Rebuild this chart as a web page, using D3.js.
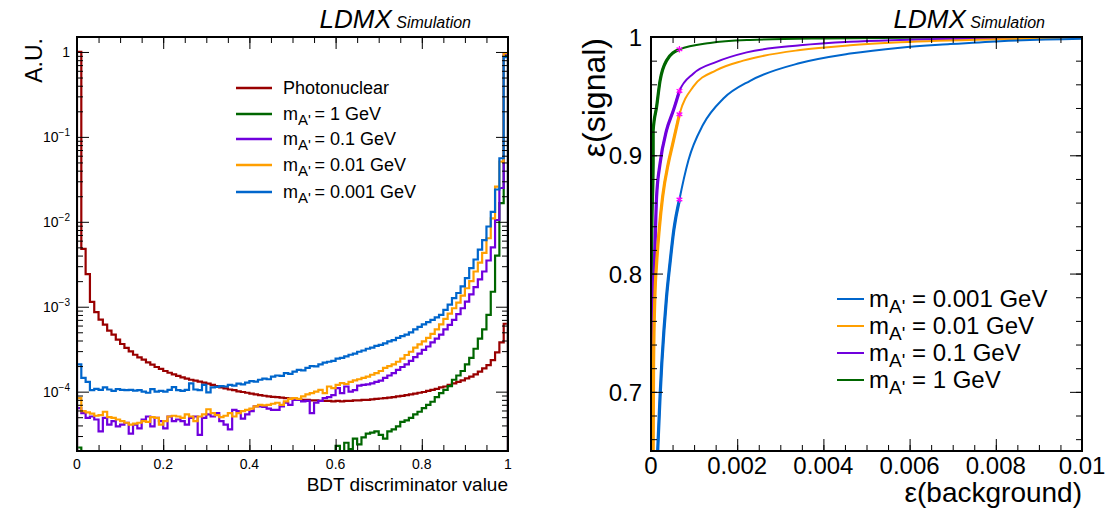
<!DOCTYPE html>
<html><head><meta charset="utf-8">
<script src="https://cdn.jsdelivr.net/npm/d3@7"></script>
<style>
body{margin:0;background:#fff;}
text{font-family:"Liberation Sans",Arial,Helvetica,sans-serif;fill:#000;}
</style>
</head><body>
<svg id="c" width="1107" height="508"></svg>
<script>
// ---------------- DATA ----------------
const binCount = 100; // BDT discriminator bins over [0,1]
const photonuclear = [
 1.0,4.81e-3,2.42e-3,1.14e-3,8.65e-4,7.03e-4,6.14e-4,5.22e-4,4.69e-4,4.09e-4,
 3.64e-4,3.27e-4,2.98e-4,2.72e-4,2.53e-4,2.38e-4,2.21e-4,2.08e-4,1.95e-4,1.85e-4,
 1.75e-4,1.67e-4,1.60e-4,1.53e-4,1.47e-4,1.42e-4,1.38e-4,1.35e-4,1.31e-4,1.28e-4,
 1.24e-4,1.20e-4,1.16e-4,1.12e-4,1.09e-4,1.06e-4,1.04e-4,1.01e-4,9.9e-5,9.7e-5,
 9.5e-5,9.3e-5,9.1e-5,8.95e-5,8.8e-5,8.7e-5,8.6e-5,8.5e-5,8.4e-5,8.3e-5,
 8.2e-5,8.1e-5,8.0e-5,8.0e-5,7.9e-5,7.9e-5,7.8e-5,7.8e-5,7.8e-5,7.7e-5,
 7.8e-5,7.7e-5,7.8e-5,7.8e-5,7.9e-5,7.9e-5,8.0e-5,8.0e-5,8.1e-5,8.2e-5,
 8.3e-5,8.4e-5,8.5e-5,8.6e-5,8.8e-5,8.9e-5,9.1e-5,9.3e-5,9.5e-5,9.7e-5,
 9.9e-5,1.02e-4,1.05e-4,1.08e-4,1.12e-4,1.15e-4,1.2e-4,1.25e-4,1.3e-4,1.36e-4,
 1.43e-4,1.5e-4,1.6e-4,1.72e-4,1.88e-4,2.05e-4,2.35e-4,2.9e-4,3.8e-4,6.3e-4
];
const mA1GeV = [
 2.2e-5,0,0,0,0,0,0,0,0,0,
 0,0,0,0,0,0,0,0,0,0,
 0,0,0,0,0,0,0,0,0,0,
 0,0,0,0,0,0,0,0,0,0,
 0,0,0,0,0,0,0,0,0,0,
 0,0,0,0,0,0,0,0,0,0,
 2.3e-5,0,2.5e-5,2.1e-5,2.8e-5,2.4e-5,2.9e-5,3.2e-5,3.3e-5,3.4e-5,
 3.1e-5,2.8e-5,3.4e-5,3.6e-5,3.9e-5,4.4e-5,4.6e-5,4.9e-5,5.4e-5,5.8e-5,
 6.4e-5,7.0e-5,7.6e-5,8.6e-5,9.6e-5,1.05e-4,1.16e-4,1.38e-4,1.55e-4,1.75e-4,
 2.1e-4,2.5e-4,3.2e-4,4.2e-4,5.4e-4,8.0e-4,1.5e-3,4.0e-3,1.66e-2,0.9
];
const mA01GeV = [
 6.4e-5,5.6e-5,4.9e-5,5.1e-5,4.7e-5,3.4e-5,4.9e-5,4.1e-5,4.5e-5,3.9e-5,
 4.1e-5,4.3e-5,3.2e-5,4.1e-5,3.7e-5,4.7e-5,5.1e-5,3.9e-5,4.9e-5,4.5e-5,
 3.7e-5,5.1e-5,4.5e-5,4.7e-5,4.5e-5,4.1e-5,4.9e-5,5.1e-5,3.1e-5,4.9e-5,
 5.4e-5,5.1e-5,5.6e-5,4.5e-5,4.1e-5,3.6e-5,6.1e-5,5.9e-5,4.8e-5,5.4e-5,
 5.9e-5,6.7e-5,6.7e-5,6.6e-5,6.3e-5,6.1e-5,6.1e-5,6.7e-5,7.4e-5,7.0e-5,
 8.0e-5,8.0e-5,7.7e-5,7.8e-5,5.6e-5,7.4e-5,7.8e-5,8.4e-5,8.6e-5,9.1e-5,
 1.1e-4,9.6e-5,1.15e-4,1.0e-4,1.04e-4,1.18e-4,1.2e-4,1.22e-4,1.25e-4,1.3e-4,
 1.35e-4,1.45e-4,1.55e-4,1.65e-4,1.8e-4,1.95e-4,2.1e-4,2.3e-4,2.55e-4,2.8e-4,
 3.1e-4,3.4e-4,3.8e-4,4.2e-4,4.7e-4,5.4e-4,6.1e-4,7.0e-4,8.2e-4,9.6e-4,
 1.15e-3,1.4e-3,1.7e-3,2.1e-3,2.6e-3,3.5e-3,5.0e-3,1.05e-2,2.5e-2,0.95
];
const mA001GeV = [
 8.4e-5,5.9e-5,5.7e-5,5.5e-5,5.2e-5,5.3e-5,5.8e-5,5.0e-5,4.9e-5,4.7e-5,
 4.5e-5,4.3e-5,4.1e-5,4.2e-5,4.3e-5,4.5e-5,4.4e-5,5.0e-5,4.9e-5,4.1e-5,
 4.5e-5,5.1e-5,5.2e-5,5.1e-5,4.9e-5,5.4e-5,5.1e-5,4.5e-5,5.1e-5,5.4e-5,
 6.2e-5,5.6e-5,5.3e-5,5.0e-5,5.2e-5,5.6e-5,5.1e-5,5.6e-5,5.9e-5,6.1e-5,
 6.3e-5,6.7e-5,7.0e-5,6.9e-5,7.0e-5,7.2e-5,7.4e-5,7.0e-5,7.7e-5,8.2e-5,
 8.4e-5,8.2e-5,8.8e-5,9.3e-5,9.6e-5,1.0e-4,1.05e-4,9.6e-5,1.15e-4,1.1e-4,
 1.2e-4,1.26e-4,1.23e-4,1.3e-4,1.36e-4,1.4e-4,1.45e-4,1.5e-4,1.58e-4,1.65e-4,
 1.75e-4,1.9e-4,2.0e-4,2.1e-4,2.25e-4,2.45e-4,2.7e-4,2.95e-4,3.3e-4,3.6e-4,
 3.9e-4,4.3e-4,4.8e-4,5.4e-4,6.2e-4,7.2e-4,8.3e-4,9.6e-4,1.12e-3,1.35e-3,
 1.65e-3,2.0e-3,2.6e-3,3.3e-3,4.3e-3,6.4e-3,1.1e-2,2.6e-2,5.1e-2,0.97
];
const mA0001GeV = [
 2.1e-4,1.45e-4,1.3e-4,1.04e-4,1.08e-4,1.05e-4,1.12e-4,1.06e-4,1.02e-4,1.07e-4,
 1.05e-4,1.04e-4,1.05e-4,1.03e-4,1.04e-4,1.0e-4,9.7e-5,1.07e-4,1.0e-4,1.02e-4,
 1.0e-4,1.05e-4,1.13e-4,1.04e-4,1.02e-4,1.05e-4,1.25e-4,1.06e-4,1.04e-4,1.2e-4,
 9.8e-5,1.12e-4,1.14e-4,1.16e-4,1.15e-4,1.2e-4,1.18e-4,1.24e-4,1.22e-4,1.28e-4,
 1.33e-4,1.31e-4,1.38e-4,1.42e-4,1.4e-4,1.5e-4,1.55e-4,1.53e-4,1.65e-4,1.62e-4,
 1.72e-4,1.8e-4,1.78e-4,1.9e-4,2.0e-4,1.98e-4,2.1e-4,2.2e-4,2.25e-4,2.3e-4,
 2.45e-4,2.5e-4,2.6e-4,2.72e-4,2.8e-4,2.95e-4,3.05e-4,3.2e-4,3.3e-4,3.45e-4,
 3.55e-4,3.7e-4,3.9e-4,4.05e-4,4.3e-4,4.5e-4,4.7e-4,5.0e-4,5.4e-4,5.8e-4,
 6.2e-4,6.6e-4,7.0e-4,7.5e-4,8.0e-4,9.2e-4,1.06e-3,1.26e-3,1.45e-3,1.74e-3,
 2.17e-3,2.85e-3,3.6e-3,4.7e-3,6.1e-3,8.8e-3,1.31e-2,2.4e-2,5.6e-2,0.87
];
const histNames = ["Photonuclear","1","0.1","0.01","0.001"];
const histColors = ["#990000","#006600","#7000dd","#ff9f00","#0066cc"];
const leftXTicks = [0,0.2,0.4,0.6,0.8,1];
const leftYTicks = [1,1e-1,1e-2,1e-3,1e-4];
const leftYTickExp = ["", "\u22121","\u22122","\u22123","\u22124"];

// ROC curves: eps(background), eps(signal)
const rocB0001 = [0.000155,0.00021,0.00025,0.0003,0.00036,0.00044,0.00053,0.00066,0.00087,0.00121,0.00168,0.0023,0.00346,0.00462,0.00578,0.00694,0.0081,0.01];
const rocS0001 = [0.65,0.696,0.724,0.752,0.78,0.8085,0.837,0.8626,0.896,0.926,0.948,0.963,0.978,0.986,0.991,0.994,0.9965,0.9985];
const rocB001 = [0.00005,0.00006,0.00009,0.00013,0.00019,0.00027,0.0004,0.0005,0.00066,0.00098,0.00152,0.00214,0.00346,0.00462,0.00578,0.0081,0.01];
const rocS001 = [0.65,0.724,0.78,0.8085,0.837,0.865,0.893,0.909,0.9347,0.958,0.972,0.980,0.989,0.993,0.9955,0.998,0.999];
const rocB01 = [0.00002,0.00003,0.00005,0.00008,0.00013,0.00021,0.00036,0.00052,0.00066,0.00098,0.00152,0.00222,0.00346,0.00462,0.00578,0.0081,0.01];
const rocS01 = [0.65,0.724,0.78,0.8085,0.865,0.893,0.921,0.938,0.9544,0.969,0.979,0.987,0.993,0.996,0.9975,0.999,0.9995];
const rocB1 = [0.00001,0.00002,0.00005,0.00005,0.00013,0.00021,0.00036,0.00066,0.00137,0.0023,0.004,0.006,0.008,0.01];
const rocS1 = [0.65,0.837,0.893,0.921,0.941,0.963,0.980,0.9896,0.9950,0.9975,0.9988,0.9993,0.9996,0.9998];
const workB = [0.00066,0.00066,0.00066,0.00066];
const workS = [0.8626,0.9347,0.9544,0.9896];
const rocNames = ["0.001","0.01","0.1","1"];
const rocColors = ["#0066cc","#ff9f00","#7000dd","#006600"];
const rightXTicks = [0,0.002,0.004,0.006,0.008,0.01];
const rightXLabels = ["0","0.002","0.004","0.006","0.008","0.01"];
const rightYTicks = [0.7,0.8,0.9,1];
const rightYLabels = ["0.7","0.8","0.9","1"];

// ---------------- DRAW ----------------
const svg = d3.select("#c");

// ===== Left panel =====
const yMinL = 2e-5;
const xL = d3.scaleLinear().domain([0,1]).range([77,508]);
const yL = d3.scaleLog().domain([yMinL,1.5]).range([451,37]);
const L = svg.append("g");

L.append("clipPath").attr("id","clipL").append("rect")
  .attr("x",xL(0)).attr("y",yL(1.5)).attr("width",xL(1)-xL(0)).attr("height",yL(yMinL)-yL(1.5));

const binEdges = d3.range(binCount+1).map(i=>i/binCount);
function histPts(vals){
  const pts=[[binEdges[0], yMinL]];
  vals.forEach((v,i)=>{const vv=Math.max(v,yMinL); pts.push([binEdges[i],vv]); pts.push([binEdges[i+1],vv]);});
  pts.push([binEdges[binCount], yMinL]);
  return pts;
}
const histLine = d3.line().x(d=>xL(d[0])).y(d=>yL(d[1]));
const hists = [photonuclear,mA1GeV,mA01GeV,mA001GeV,mA0001GeV];
const hg = L.append("g").attr("clip-path","url(#clipL)");
hists.forEach((h,k)=>{
  hg.append("path").attr("d",histLine(histPts(h))).attr("fill","none")
    .attr("stroke",histColors[k]).attr("stroke-width",2.2).attr("stroke-linejoin","miter");
});

function addAxis(g, axis){ const a=g.call(axis); a.select(".domain").remove(); a.selectAll("line").attr("stroke","#000").attr("stroke-width",1); a.selectAll("text").remove(); return a;}
const xMinorL = d3.range(0,1.0001,0.05);
addAxis(L.append("g").attr("transform",`translate(0,${yL(yMinL)})`), d3.axisBottom(xL).tickValues(leftXTicks).tickSize(-12));
addAxis(L.append("g").attr("transform",`translate(0,${yL(yMinL)})`), d3.axisBottom(xL).tickValues(xMinorL).tickSize(-6));
addAxis(L.append("g").attr("transform",`translate(0,${yL(1.5)})`), d3.axisTop(xL).tickValues(leftXTicks).tickSize(-12));
addAxis(L.append("g").attr("transform",`translate(0,${yL(1.5)})`), d3.axisTop(xL).tickValues(xMinorL).tickSize(-6));
const yMinorL = [];
[1e-5,1e-4,1e-3,1e-2,1e-1,1].forEach(d=>{for(let m=2;m<=9;m++){const v=d*m; if(v>=yMinL && v<=1.5) yMinorL.push(v);} });
addAxis(L.append("g").attr("transform",`translate(${xL(0)},0)`), d3.axisLeft(yL).tickValues(leftYTicks).tickSize(-12));
addAxis(L.append("g").attr("transform",`translate(${xL(0)},0)`), d3.axisLeft(yL).tickValues(yMinorL).tickSize(-6));
addAxis(L.append("g").attr("transform",`translate(${xL(1)},0)`), d3.axisRight(yL).tickValues(leftYTicks).tickSize(-12));
addAxis(L.append("g").attr("transform",`translate(${xL(1)},0)`), d3.axisRight(yL).tickValues(yMinorL).tickSize(-6));
L.append("rect").attr("x",xL(0)).attr("y",yL(1.5)).attr("width",xL(1)-xL(0)).attr("height",yL(yMinL)-yL(1.5))
  .attr("fill","none").attr("stroke","#000").attr("stroke-width",2);

leftXTicks.forEach(t=>{
  L.append("text").attr("x",xL(t)).attr("y",yL(yMinL)+18).attr("text-anchor","middle").attr("font-size",14).text(d3.format("")(t));
});
leftYTicks.forEach((t,i)=>{
  const tx = L.append("text").attr("x",70).attr("y",yL(t)+5).attr("text-anchor","end").attr("font-size",14);
  if(i===0){tx.text("1");}
  else { tx.append("tspan").text("10"); tx.append("tspan").attr("dy",-6).attr("font-size",10).text(leftYTickExp[i]); }
});
L.append("text").attr("x",508).attr("y",491).attr("text-anchor","end").attr("font-size",19).text("BDT discriminator value");
L.append("text").attr("transform","translate(42,38) rotate(-90)").attr("text-anchor","end").attr("font-size",23).text("A.U.");
const tl = L.append("text").attr("x",471).attr("y",28).attr("text-anchor","end").attr("font-style","italic");
tl.append("tspan").attr("font-size",26).text("LDMX");
tl.append("tspan").attr("font-size",16).text(" Simulation");

const legY = [88,114,139,165,192];
histNames.forEach((n,k)=>{
  L.append("line").attr("x1",236).attr("x2",272).attr("y1",legY[k]).attr("y2",legY[k]).attr("stroke",histColors[k]).attr("stroke-width",2.5);
  const t = L.append("text").attr("x",283).attr("y",legY[k]+6).attr("font-size",18);
  if(k===0) t.text(n);
  else { t.append("tspan").text("m"); t.append("tspan").attr("font-size",15).attr("dy",5).text("A'"); t.append("tspan").attr("dy",-5).text("\u2009= "+n+" GeV"); }
});

// ===== Right panel =====
const xR = d3.scaleLinear().domain([0,0.01]).range([651,1082]);
const yR = d3.scaleLinear().domain([0.65,1]).range([451,37]);
const R = svg.append("g");
R.append("clipPath").attr("id","clipR").append("rect")
  .attr("x",xR(0)).attr("y",yR(1)).attr("width",xR(0.01)-xR(0)).attr("height",yR(0.65)-yR(1));
const rocs = [[rocB0001,rocS0001],[rocB001,rocS001],[rocB01,rocS01],[rocB1,rocS1]];
const rocLine = d3.line().curve(d3.curveMonotoneX).x(d=>xR(d[0])).y(d=>yR(d[1]));
const rg = R.append("g").attr("clip-path","url(#clipR)");
[3,2,1,0].forEach(k=>{
  const pts = rocs[k][0].map((b,i)=>[b,rocs[k][1][i]]);
  rg.append("path").attr("d",rocLine(pts)).attr("fill","none").attr("stroke",rocColors[k]).attr("stroke-width",2);
  const pre = pts.filter(p=>p[0]<=workB[k]+1e-9);
  rg.append("path").attr("d",rocLine(pre)).attr("fill","none").attr("stroke",rocColors[k]).attr("stroke-width",3.2);
});
workB.forEach((b,k)=>{
  rg.append("path").attr("d",d3.symbol(d3.symbolAsterisk,30)()).attr("transform",`translate(${xR(b)},${yR(workS[k])})`)
    .attr("stroke","#ff00ff").attr("stroke-width",1.3).attr("fill","none");
});
const xMinorR = d3.range(0,0.01001,0.0005);
const yMinorR = d3.range(0.66,1.0001,0.02);
addAxis(R.append("g").attr("transform",`translate(0,${yR(0.65)})`), d3.axisBottom(xR).tickValues(rightXTicks).tickSize(-12));
addAxis(R.append("g").attr("transform",`translate(0,${yR(0.65)})`), d3.axisBottom(xR).tickValues(xMinorR).tickSize(-6));
addAxis(R.append("g").attr("transform",`translate(0,${yR(1)})`), d3.axisTop(xR).tickValues(rightXTicks).tickSize(-12));
addAxis(R.append("g").attr("transform",`translate(0,${yR(1)})`), d3.axisTop(xR).tickValues(xMinorR).tickSize(-6));
addAxis(R.append("g").attr("transform",`translate(${xR(0)},0)`), d3.axisLeft(yR).tickValues(rightYTicks).tickSize(-12));
addAxis(R.append("g").attr("transform",`translate(${xR(0)},0)`), d3.axisLeft(yR).tickValues(yMinorR).tickSize(-6));
addAxis(R.append("g").attr("transform",`translate(${xR(0.01)},0)`), d3.axisRight(yR).tickValues(rightYTicks).tickSize(-12));
addAxis(R.append("g").attr("transform",`translate(${xR(0.01)},0)`), d3.axisRight(yR).tickValues(yMinorR).tickSize(-6));
R.append("rect").attr("x",xR(0)).attr("y",yR(1)).attr("width",xR(0.01)-xR(0)).attr("height",yR(0.65)-yR(1))
  .attr("fill","none").attr("stroke","#000").attr("stroke-width",2);

rightXTicks.forEach((t,i)=>{
  R.append("text").attr("x",xR(t)).attr("y",474).attr("text-anchor","middle").attr("font-size",24).text(rightXLabels[i]);
});
rightYTicks.forEach((t,i)=>{
  R.append("text").attr("x",642).attr("y",yR(t)+9).attr("text-anchor","end").attr("font-size",24).text(rightYLabels[i]);
});
R.append("text").attr("x",1082).attr("y",502).attr("text-anchor","end").attr("font-size",28).text("\u03b5(background)");
R.append("text").attr("transform","translate(605,38) rotate(-90)").attr("text-anchor","end").attr("font-size",32).text("\u03b5(signal)");
const tr = R.append("text").attr("x",1045).attr("y",28).attr("text-anchor","end").attr("font-style","italic");
tr.append("tspan").attr("font-size",26).text("LDMX");
tr.append("tspan").attr("font-size",16).text(" Simulation");

const legYR = [299,326,353,380];
rocNames.forEach((n,k)=>{
  R.append("line").attr("x1",837).attr("x2",864).attr("y1",legYR[k]).attr("y2",legYR[k]).attr("stroke",rocColors[k]).attr("stroke-width",2);
  const t = R.append("text").attr("x",869).attr("y",legYR[k]+8).attr("font-size",24);
  t.append("tspan").text("m"); t.append("tspan").attr("font-size",19).attr("dy",6).text("A'"); t.append("tspan").attr("dy",-6).text(" = "+n+" GeV");
});
</script>
</body></html>
